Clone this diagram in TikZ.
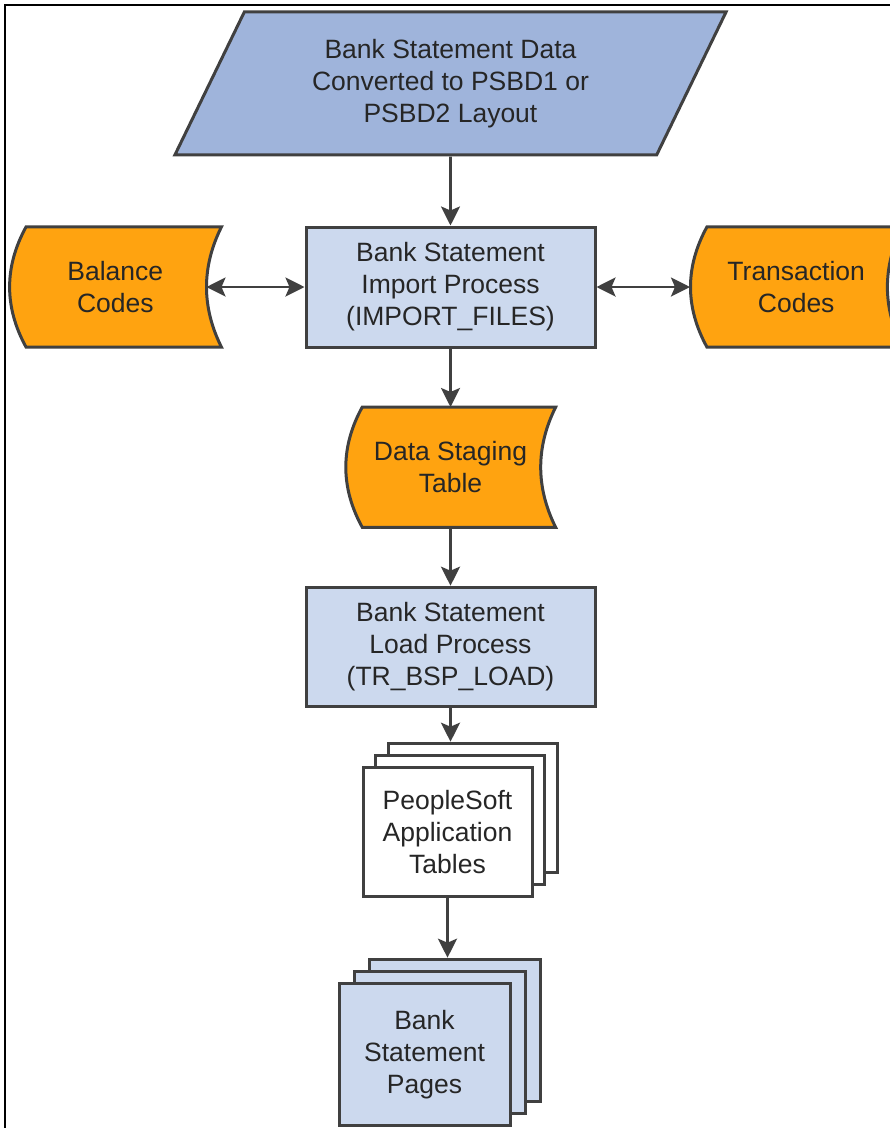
\documentclass[tikz,border=0pt]{standalone}
\usepackage{fontspec}
\setmainfont{Liberation Sans}
\usetikzlibrary{shapes.geometric, arrows.meta, positioning, shadows, backgrounds}
\definecolor{linegray}{RGB}{64,64,64}
\definecolor{textgray}{RGB}{38,38,38}
\definecolor{inputblue}{RGB}{159,180,219}
\definecolor{procblue}{RGB}{204,217,238}
\definecolor{storeorange}{RGB}{255,163,16}
\tikzset{
    proc/.style={rectangle, draw=linegray, line width=3pt, fill=procblue, minimum width=289pt, minimum height=120pt, align=center, text=textgray, font=\fontsize{26.5}{32}\selectfont},
    inputbox/.style={trapezium, trapezium left angle=63.4, trapezium right angle=116.6, trapezium stretches=true, draw=linegray, line width=3pt, fill=inputblue, minimum width=554pt, minimum height=143pt, align=center, text=textgray, font=\fontsize{26.5}{32}\selectfont},
    store/.style={rectangle, minimum width=212pt, minimum height=120pt, align=center, text=textgray, font=\fontsize{26.5}{32}\selectfont},
    storeshape/.style={draw=linegray, line width=3pt, fill=storeorange},
    stack/.style={rectangle, draw=linegray, line width=3pt, align=center, text=textgray, font=\fontsize{26.5}{32}\selectfont},
    arrow/.style={-{Stealth[length=19pt, width=19pt, inset=4pt]}, line width=2.8pt, draw=linegray},
    dblarrow/.style={{Stealth[length=19pt, width=19pt, inset=4pt]}-{Stealth[length=19pt, width=19pt, inset=4pt]}, line width=2.8pt, draw=linegray},
    frame/.style={line width=2pt, black}
}

\begin{document}
\begin{tikzpicture}[x=1pt, y=-1pt]
    \useasboundingbox (0,0) rectangle (890,1128);
    \draw[frame] (5,1130) -- (5,5) -- (892,5);

    % main column
    \node[proc] (import) at (450.5,287) {Bank Statement\\Import Process\\(IMPORT\_FILES)};
    \node[inputbox, above=69pt of import] (data) {Bank Statement Data\\Converted to PSBD1 or\\PSBD2 Layout};
    \node[store, left=83pt of import] (balance) {Balance\\Codes};
    \node[store, right=93.5pt of import] (trans) {Transaction\\Codes};
    \node[store, below=58.5pt of import, minimum width=210pt] (staging) {Data Staging\\Table};
    \node[proc, below=58.3pt of staging, minimum height=119pt] (load) {Bank Statement\\Load Process\\(TR\_BSP\_LOAD)};
    \node[stack, fill=white, below=58pt of load, xshift=-3pt, minimum width=169pt, minimum height=129pt,
        copy shadow={shadow xshift=25pt, shadow yshift=24pt}, copy shadow={shadow xshift=12.5pt, shadow yshift=12pt}] (people) {PeopleSoft\\Application\\Tables};
    \node[stack, fill=procblue, below=84pt of people, xshift=-23pt, minimum width=171pt, minimum height=142pt,
        copy shadow={shadow xshift=30pt, shadow yshift=24pt}, copy shadow={shadow xshift=15pt, shadow yshift=12pt}] (pages) {Bank\\Statement\\Pages};

    % stored data shapes
    \begin{scope}[on background layer]
    \foreach \n in {balance, trans, staging} {
        \draw[storeshape] ([xshift=17pt]\n.north west) -- (\n.north east)
            .. controls ([xshift=-20pt, yshift=-40pt]\n.north east) and ([xshift=-20pt, yshift=40pt]\n.south east) .. (\n.south east)
            -- ([xshift=17pt]\n.south west)
            .. controls ([xshift=-5pt, yshift=40pt]\n.south west) and ([xshift=-5pt, yshift=-40pt]\n.north west) .. cycle;
    }
    \end{scope}

    % connectors
    \coordinate (peopletop) at ([yshift=24pt]people.north);
    \coordinate (pagestop) at ([yshift=24pt]pages.north);
    \draw[arrow] (data) -- (import);
    \draw[dblarrow] ([xshift=-15pt]balance.east) -- (import);
    \draw[dblarrow] (import) -- (trans);
    \draw[arrow] (import) -- (staging);
    \draw[arrow] (staging) -- (load);
    \draw[arrow] (load.south) -- (load.south |- peopletop);
    \draw[arrow] (people.south) -- (people.south |- pagestop);
\end{tikzpicture}
\end{document}
